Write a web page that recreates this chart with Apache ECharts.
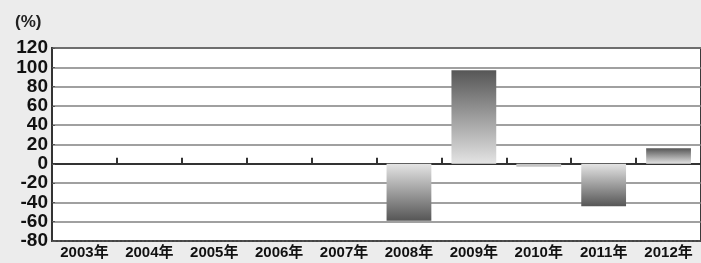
<!DOCTYPE html>
<html>
<head>
<meta charset="utf-8">
<script src="https://cdn.jsdelivr.net/npm/echarts@6/dist/echarts.min.js"></script>
<style>
  html, body { margin: 0; padding: 0; background: #ececec; }
  #chart { width: 701px; height: 263px; }
</style>
</head>
<body>
<div id="chart"></div>
<script>
// 年次データ（前年比 %）
var years = ['2003年', '2004年', '2005年', '2006年', '2007年', '2008年', '2009年', '2010年', '2011年', '2012年'];
var growth = [0, 0, 0, 0, 0, -59, 97, -3, -44, 16];
var yTicks = [-80, -60, -40, -20, 0, 20, 40, 60, 80, 100, 120];

function barColor(v) {
  if (Math.abs(v) < 5) return '#c4c4c4';
  var dark = '#565656', light = '#e4e4e4';
  var stops = v >= 0
    ? [{offset: 0, color: dark}, {offset: 1, color: light}]
    : [{offset: 0, color: light}, {offset: 1, color: dark}];
  return new echarts.graphic.LinearGradient(0, 0, 0, 1, stops);
}

var chart = echarts.init(document.getElementById('chart'));
chart.setOption({
  backgroundColor: '#ececec',
  animation: false,
  textStyle: { fontFamily: 'Liberation Sans, Arial, Noto Sans CJK JP' },
  graphic: [{
    type: 'text', left: 15, top: 14,
    style: { text: '(%)', fontSize: 17, fontWeight: 'bold', fill: '#222',
             fontFamily: 'Liberation Sans, Arial' }
  }],
  grid: {
    left: 52, right: -4, top: 48, bottom: 22,
    show: true, backgroundColor: '#ffffff',
    borderColor: '#3a3a3a', borderWidth: 2
  },
  xAxis: [{
    type: 'category',
    data: years,
    position: 'bottom',
    axisLine: { onZero: false, lineStyle: { color: '#444', width: 2, type: 'dotted' } },
    axisTick: { show: false },
    axisLabel: { color: '#111', fontSize: 15, fontWeight: 'bold', margin: 4, interval: 0,
                 fontFamily: 'Liberation Sans, Arial, Noto Sans CJK JP' }
  }, {
    type: 'category',
    data: years,
    position: 'bottom',
    axisLine: { onZero: true, lineStyle: { color: '#333', width: 2 } },
    axisTick: { show: true, inside: true, length: 6, lineStyle: { color: '#333', width: 2 } },
    axisLabel: { show: false }
  }],
  yAxis: {
    type: 'value',
    min: yTicks[0], max: yTicks[yTicks.length - 1], interval: 20,
    axisLine: { show: true, lineStyle: { color: '#333', width: 2 } },
    axisTick: { show: true, inside: true, length: 3, lineStyle: { color: '#555' } },
    axisLabel: { color: '#111', fontSize: 19, fontWeight: 'bold', margin: 4,
                 showMinLabel: true, showMaxLabel: true, hideOverlap: false,
                 fontFamily: 'Liberation Sans, Arial' },
    splitLine: { lineStyle: { color: '#808080', width: 1.5 } }
  },
  series: [{
    type: 'bar',
    xAxisIndex: 0,
    barCategoryGap: '31%',
    data: growth.map(function (v) {
      return { value: v, itemStyle: { color: barColor(v) } };
    })
  }]
});
</script>
</body>
</html>
